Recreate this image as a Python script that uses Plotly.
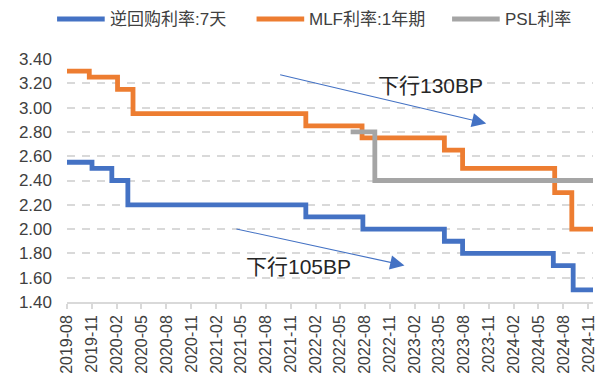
import plotly.graph_objects as go

# Policy rate step changes: date of each level and the level (%)
rr7_dates = ["2019-08-01", "2019-11-01", "2020-01-13", "2020-03-12", "2021-12-27",
             "2022-07-25", "2023-05-21", "2023-07-27", "2024-06-25", "2024-09-06", "2024-11-18"]
rr7_rates = [2.55, 2.50, 2.40, 2.20, 2.10, 2.00, 1.90, 1.80, 1.70, 1.50, 1.50]

mlf_dates = ["2019-08-01", "2019-10-22", "2020-02-03", "2020-03-31", "2021-12-27",
             "2022-07-22", "2023-05-21", "2023-07-27", "2024-06-30", "2024-09-01", "2024-11-18"]
mlf_rates = [3.30, 3.25, 3.15, 2.95, 2.85, 2.75, 2.65, 2.50, 2.30, 2.00, 2.00]

psl_dates = ["2022-06-10", "2022-09-07", "2024-11-18"]
psl_rates = [2.80, 2.40, 2.40]

series_names = ["逆回购利率:7天", "MLF利率:1年期", "PSL利率"]
series_colors = ["#4472C4", "#ED7D31", "#A5A5A5"]

X_START, X_END = "2019-08-01", "2024-11-18"
Y_MIN, Y_MAX, Y_STEP = 1.40, 3.40, 0.20

FONT = "Liberation Sans, Arial, Noto Sans CJK SC, sans-serif"
TEXT_COLOR = "#404040"
GRID_COLOR = "#D9D9D9"

W, H = 605, 382
MARGIN = dict(l=67, r=8, t=59, b=80)
PLOT_W = W - MARGIN["l"] - MARGIN["r"]
PLOT_H = H - MARGIN["t"] - MARGIN["b"]


def px_to_paper(px, py):
    """Convert page pixels (from top-left) to paper coordinates."""
    return (px - MARGIN["l"]) / PLOT_W, (H - MARGIN["b"] - py) / PLOT_H


fig = go.Figure()
for name, xs, ys, color in zip(series_names,
                               [rr7_dates, mlf_dates, psl_dates],
                               [rr7_rates, mlf_rates, psl_rates],
                               series_colors):
    fig.add_trace(go.Scatter(x=xs, y=ys, name=name, mode="lines", showlegend=False,
                             line=dict(color=color, width=4.8, shape="hv")))

# Legend row across the top: a swatch line then the series name
legend_swatch_left = [57, 258, 455]
SWATCH_LEN, LEGEND_Y = 48, 19
for name, color, left in zip(series_names, series_colors, legend_swatch_left):
    x0, y0 = px_to_paper(left, LEGEND_Y)
    x1, _ = px_to_paper(left + SWATCH_LEN, LEGEND_Y)
    fig.add_shape(type="line", xref="paper", yref="paper", x0=x0, x1=x1, y0=y0, y1=y0,
                  line=dict(color=color, width=5))
    tx, _ = px_to_paper(left + SWATCH_LEN + 3, LEGEND_Y)
    fig.add_annotation(x=tx, y=y0, xref="paper", yref="paper", text=name,
                       showarrow=False, xanchor="left", yanchor="middle",
                       font=dict(family=FONT, size=17, color=TEXT_COLOR))

# Trend arrows with their labels
arrow_color = "#4472C4"
trend_notes = [
    dict(text="下行130BP", tx="2023-03-30", ty=3.186,
         tail=("2021-09-18", 3.274), head=("2023-10-22", 2.870)),
    dict(text="下行105BP", tx="2021-11-30", ty=1.693,
         tail=("2021-04-10", 2.004), head=("2022-12-25", 1.701)),
]
for note in trend_notes:
    fig.add_annotation(x=note["head"][0], y=note["head"][1],
                       ax=note["tail"][0], ay=note["tail"][1],
                       xref="x", yref="y", axref="x", ayref="y",
                       text="", showarrow=True, arrowhead=2, arrowsize=2.6,
                       arrowwidth=1.1, arrowcolor=arrow_color)
    fig.add_annotation(x=note["tx"], y=note["ty"], xref="x", yref="y",
                       text=note["text"], showarrow=False,
                       font=dict(family=FONT, size=21, color="#262626"))

fig.update_layout(
    width=W, height=H,
    margin=MARGIN,
    paper_bgcolor="white", plot_bgcolor="white",
    font=dict(family=FONT, size=16, color=TEXT_COLOR),
    showlegend=False,
    xaxis=dict(
        type="date", range=[X_START, X_END],
        tick0=X_START, dtick="M3", tickformat="%Y-%m", tickangle=-90,
        showgrid=False, showline=True, linecolor=GRID_COLOR, linewidth=1.5,
        ticks="outside", ticklen=5, tickcolor=GRID_COLOR, tickwidth=1.5,
        tickfont=dict(size=16, color=TEXT_COLOR),
    ),
    yaxis=dict(
        range=[Y_MIN, Y_MAX], dtick=Y_STEP, tick0=Y_MIN, tickformat=".2f",
        showgrid=True, gridcolor=GRID_COLOR, gridwidth=1.5, griddash="8px,7px",
        zeroline=False, showline=False, ticks="",
        ticklabelstandoff=14,
        tickfont=dict(size=17, color=TEXT_COLOR),
    ),
)

fig.write_html("out.html")
